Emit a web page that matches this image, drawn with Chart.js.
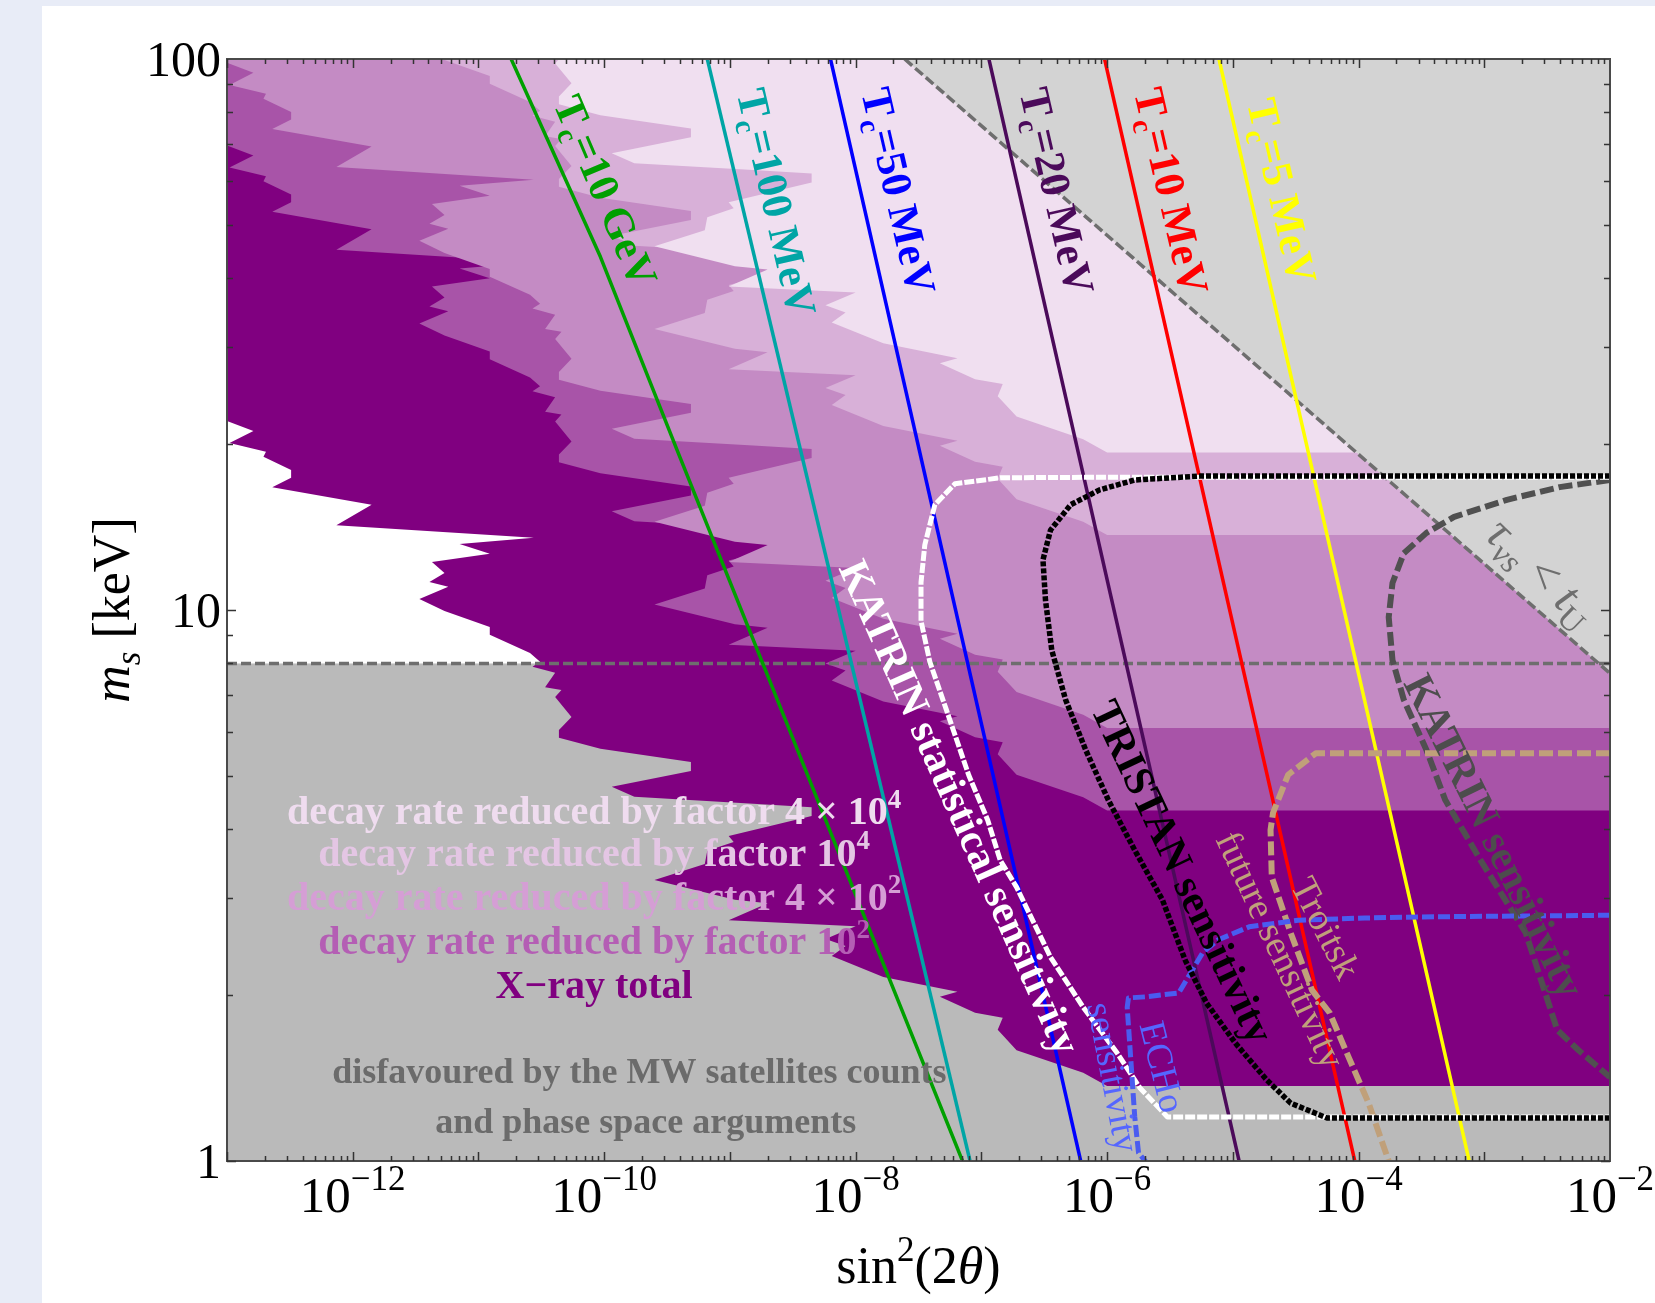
<!DOCTYPE html>
<html>
<head>
<meta charset="utf-8">
<title>Sterile neutrino bounds</title>
<script src="https://cdn.jsdelivr.net/npm/chart.js@4.4.1/dist/chart.umd.min.js"></script>
<style>
    html, body { margin: 0; padding: 0; background: #ffffff; }
    #page { position: relative; width: 1655px; height: 1303px; overflow: hidden; background: #ffffff; }
    #band-left { position: absolute; left: 0; top: 0; width: 42px; height: 1303px; background: #e8ecf7; }
    #band-top { position: absolute; left: 0; top: 0; width: 1655px; height: 6px; background: #e8ecf7; }
    #bounds-canvas { position: absolute; left: 0; top: 0; }
</style>
</head>
<body>
<div id="page">
    <div id="band-left"></div>
    <div id="band-top"></div>
    <canvas id="bounds-canvas" width="1655" height="1303"></canvas>
</div>
<script>
// axis ranges: sin^2(2 theta) on x, m_s in keV on y
var xMin = 1e-13, xMax = 1e-2, yMin = 1, yMax = 100;
var xLabelExps = [-12, -10, -8, -6, -4, -2];
var yLabelVals = [1, 10, 100];

// MW satellites / phase space bound, keV
var mwBound = 8.0;

// X-ray bound: jagged edge of the excluded region (log10 sin^2 2theta, log10 m_s)
var xrayLogX = [-13.00, -12.79, -12.98, -12.69, -12.71, -12.49, -12.49, -12.64, -11.85, -12.13,
    -10.56, -11.15, -10.91, -11.37, -11.27, -11.39, -11.24, -11.47, -11.27, -10.91,
    -10.91, -10.59, -10.51, -10.57, -10.39, -10.47, -10.34, -10.39, -10.26, -10.36,
    -10.36, -10.03, -9.31, -9.31, -9.94, -9.76, -8.78, -8.35, -8.35, -9.01,
    -8.97, -9.18, -9.20, -9.60, -8.96, -8.70, -9.01, -8.00, -8.24, -8.08,
    -8.19, -7.78, -7.19, -7.33, -7.05, -6.83, -6.87, -6.72, -6.19, -6.00];
var xrayLogM = [1.343, 1.325, 1.303, 1.287, 1.278, 1.254, 1.240, 1.223, 1.191, 1.154,
    1.131, 1.120, 1.102, 1.087, 1.067, 1.051, 1.042, 1.020, 0.998, 0.969,
    0.955, 0.922, 0.906, 0.897, 0.886, 0.860, 0.855, 0.842, 0.806, 0.782,
    0.768, 0.748, 0.724, 0.708, 0.679, 0.661, 0.648, 0.642, 0.626, 0.590,
    0.579, 0.563, 0.539, 0.510, 0.474, 0.468, 0.437, 0.426, 0.403, 0.390,
    0.372, 0.334, 0.307, 0.298, 0.269, 0.260, 0.238, 0.201, 0.160, 0.136];
// same edge with the decay rate reduced (edges move up in m_s)
var red1e2LogM = [1.843, 1.825, 1.803, 1.787, 1.778, 1.754, 1.740, 1.723, 1.691, 1.654,
    1.631, 1.620, 1.602, 1.587, 1.567, 1.551, 1.542, 1.520, 1.498, 1.469,
    1.455, 1.422, 1.406, 1.397, 1.386, 1.360, 1.355, 1.342, 1.306, 1.282,
    1.268, 1.248, 1.224, 1.208, 1.179, 1.161, 1.148, 1.142, 1.126, 1.090,
    1.079, 1.063, 1.039, 1.010, 0.974, 0.968, 0.937, 0.926, 0.903, 0.890,
    0.872, 0.834, 0.807, 0.798, 0.769, 0.760, 0.738, 0.701, 0.660, 0.636];
var red4e2LogM = [1.993, 1.975, 1.953, 1.937, 1.928, 1.904, 1.890, 1.873, 1.841, 1.804,
    1.781, 1.770, 1.752, 1.737, 1.717, 1.701, 1.692, 1.670, 1.648, 1.619,
    1.605, 1.572, 1.556, 1.547, 1.536, 1.510, 1.505, 1.492, 1.456, 1.432,
    1.418, 1.398, 1.374, 1.358, 1.329, 1.311, 1.298, 1.292, 1.276, 1.240,
    1.229, 1.213, 1.189, 1.160, 1.124, 1.118, 1.087, 1.076, 1.053, 1.040,
    1.022, 0.984, 0.957, 0.948, 0.919, 0.910, 0.888, 0.851, 0.810, 0.786];
var red1e4LogM = [2.343, 2.325, 2.303, 2.287, 2.278, 2.254, 2.240, 2.223, 2.191, 2.154,
    2.131, 2.120, 2.102, 2.087, 2.067, 2.051, 2.042, 2.020, 1.998, 1.969,
    1.955, 1.922, 1.906, 1.897, 1.886, 1.860, 1.855, 1.842, 1.806, 1.782,
    1.768, 1.748, 1.724, 1.708, 1.679, 1.661, 1.648, 1.642, 1.626, 1.590,
    1.579, 1.563, 1.539, 1.510, 1.474, 1.468, 1.437, 1.426, 1.403, 1.390,
    1.372, 1.334, 1.307, 1.298, 1.269, 1.260, 1.238, 1.201, 1.160, 1.136];
var red4e4LogM = [2.493, 2.475, 2.453, 2.437, 2.428, 2.404, 2.390, 2.373, 2.341, 2.304,
    2.281, 2.270, 2.252, 2.237, 2.217, 2.201, 2.192, 2.170, 2.148, 2.119,
    2.105, 2.072, 2.056, 2.047, 2.036, 2.010, 2.005, 1.992, 1.956, 1.932,
    1.918, 1.898, 1.874, 1.858, 1.829, 1.811, 1.798, 1.792, 1.776, 1.740,
    1.729, 1.713, 1.689, 1.660, 1.624, 1.618, 1.587, 1.576, 1.553, 1.540,
    1.522, 1.484, 1.457, 1.448, 1.419, 1.410, 1.388, 1.351, 1.310, 1.286];

// lifetime shorter than the age of the universe (dashed diagonal)
var lifetimeLogX = [-7.61, -2.00];
var lifetimeLogM = [2.000, 0.885];

// production temperature lines
var tcEndLogM = [2.0, 0.0];
var tc10GeVLogX = [-10.74, -10.03, -9.42, -7.15];
var tc10GeVLogM = [2.0, 1.641, 1.290, 0.0];
var tc100MeVLogX = [-9.18, -7.09];
var tc50MeVLogX = [-8.20, -6.21];
var tc20MeVLogX = [-6.94, -4.95];
var tc10MeVLogX = [-6.02, -4.03];
var tc5MeVLogX = [-5.11, -3.12];

// sensitivity curves
var katrinStatLogX = [-2.00, -5.99, -6.85, -7.21, -7.37, -7.45, -7.48, -7.48, -7.41, -7.28, -7.10, -6.95, -6.85, -6.72, -6.45, -6.19, -5.92, -5.74, -5.52, -2.00];
var katrinStatLogM = [1.241, 1.241, 1.240, 1.229, 1.191, 1.118, 1.050, 0.980, 0.906, 0.820, 0.700, 0.619, 0.546, 0.497, 0.370, 0.279, 0.196, 0.133, 0.080, 0.080];
var tristanLogX = [-2.00, -5.26, -5.78, -6.06, -6.29, -6.45, -6.51, -6.49, -6.44, -6.33, -6.17, -5.99, -5.78, -5.56, -5.38, -5.21, -4.98, -4.73, -4.54, -4.25, -2.00];
var tristanLogM = [1.243, 1.243, 1.236, 1.218, 1.191, 1.145, 1.091, 1.018, 0.927, 0.837, 0.746, 0.655, 0.564, 0.474, 0.365, 0.287, 0.214, 0.147, 0.105, 0.078, 0.078];
var katrinLogX = [-2.00, -2.40, -2.82, -3.24, -3.46, -3.64, -3.73, -3.76, -3.73, -3.64, -3.46, -3.31, -3.03, -2.67, -2.42, -2.25, -2.00];
var katrinLogM = [1.236, 1.223, 1.200, 1.169, 1.140, 1.103, 1.049, 0.987, 0.909, 0.837, 0.746, 0.655, 0.546, 0.414, 0.238, 0.201, 0.152];
var troitskLogX = [-2.00, -4.34, -4.56, -4.68, -4.70, -4.69, -4.54, -4.37, -4.23, -4.08, -3.92, -3.76];
var troitskLogM = [0.740, 0.740, 0.701, 0.632, 0.601, 0.515, 0.414, 0.310, 0.269, 0.189, 0.105, 0.000];
var echoLogX = [-2.00, -3.52, -3.95, -4.48, -4.87, -5.12, -5.24, -5.43, -5.69, -5.83, -5.84, -5.78, -5.75, -5.69];
var echoLogM = [0.446, 0.443, 0.441, 0.437, 0.425, 0.401, 0.378, 0.305, 0.298, 0.296, 0.279, 0.080, 0.015, -0.002];

var FONT = '"Liberation Serif", "Times New Roman", serif';
var TOP = 400;      // above the frame, closes the filled areas
var BELOW = 0.5;    // below the frame

var tcLabels = [
    {parts: [['T'], ['c', 'sub'], ['=10 GeV']], color: '#00a000', at: [-9.99, 1.76], rot: 67},
    {parts: [['T'], ['c', 'sub'], ['=100 MeV']], color: '#00a5a5', at: [-8.63, 1.74], rot: 77},
    {parts: [['T'], ['c', 'sub'], ['=50 MeV']], color: '#0000ff', at: [-7.66, 1.76], rot: 77},
    {parts: [['T'], ['c', 'sub'], ['=20 MeV']], color: '#4b0a5a', at: [-6.40, 1.76], rot: 77},
    {parts: [['T'], ['c', 'sub'], ['=10 MeV']], color: '#ff0000', at: [-5.49, 1.76], rot: 77},
    {parts: [['T'], ['c', 'sub'], ['=5 MeV']], color: '#ffff00', at: [-4.61, 1.76], rot: 77}
];
var curveLabels = [
    {parts: [['KATRIN statistical sensitivity']], color: '#ffffff', at: [-7.17, 0.642], rot: 66, size: 42, weight: 'bold'},
    {parts: [['TRISTAN sensitivity']], color: '#000000', at: [-5.40, 0.525], rot: 64.7, size: 42, weight: 'bold'},
    {parts: [['KATRIN sensitivity']], color: '#4d4d4d', at: [-2.92, 0.590], rot: 63.6, size: 42, weight: 'bold'},
    {parts: [['Troitsk']], color: '#c0a07a', at: [-4.26, 0.423], rot: 63, size: 38, weight: 'normal'},
    {parts: [['future sensitivity']], color: '#c0a07a', at: [-4.62, 0.383], rot: 65, size: 38, weight: 'normal'},
    {parts: [['ECHo']], color: '#5566ff', at: [-5.56, 0.171], rot: 76, size: 37, weight: 'normal'},
    {parts: [['sensitivity']], color: '#5566ff', at: [-5.95, 0.152], rot: 79, size: 37, weight: 'normal'},
    {parts: [['\u03c4', 'i'], ['\u03bds', 'isub'], [' < '], ['t', 'i'], ['U', 'sub']], color: '#6e6e6e', at: [-2.54, 1.070], rot: 44, size: 48, weight: 'normal'}
];
var legendLines = [
    {parts: [['decay rate reduced by factor 4 \u00d7 10'], ['4', 'sup']], color: '#efdcef', at: [-10.08, 0.635], size: 40},
    {parts: [['decay rate reduced by factor 10'], ['4', 'sup']], color: '#e4c6e4', at: [-10.08, 0.559], size: 40},
    {parts: [['decay rate reduced by factor 4 \u00d7 10'], ['2', 'sup']], color: '#d59ed5', at: [-10.08, 0.479], size: 40},
    {parts: [['decay rate reduced by factor 10'], ['2', 'sup']], color: '#b45eb4', at: [-10.08, 0.399], size: 40},
    {parts: [['X\u2212ray total']], color: '#800080', at: [-10.08, 0.319], size: 40},
    {parts: [['disfavoured by the MW satellites counts']], color: '#6b6b6b', at: [-9.72, 0.163], size: 36},
    {parts: [['and phase space arguments']], color: '#6b6b6b', at: [-9.67, 0.073], size: 36}
];

function toPoints(logX, logM) {
    return logX.map(function(e, i) {
        return {x: Math.pow(10, e), y: Math.pow(10, logM[i])};
    });
}

// area to the right of an edge and above its lowest point
function region(logX, logM) {
    var pts = toPoints(logX, logM);
    var last = pts[pts.length - 1];
    return [{x: xMin, y: TOP}, {x: xMin, y: pts[0].y}].concat(pts, [{x: xMax, y: last.y}, {x: xMax, y: TOP}]);
}

function fillSet(data, color, order) {
    return {data: data, showLine: true, fill: 'shape', backgroundColor: color, borderWidth: 0,
        borderColor: 'rgba(0,0,0,0)', pointRadius: 0, order: order, clip: 0};
}

function lineSet(data, color, width, dash, order) {
    return {data: data, showLine: true, fill: false, borderColor: color, borderWidth: width,
        borderDash: dash || [], borderJoinStyle: 'round', pointRadius: 0, order: order, clip: 0};
}

function richFont(kind, size, weight) {
    var small = kind.indexOf('sub') >= 0 || kind.indexOf('sup') >= 0;
    var italic = kind.charAt(0) === 'i' ? 'italic ' : '';
    return italic + weight + ' ' + (small ? Math.round(size * 0.68) : size) + 'px ' + FONT;
}

// text with sub/superscripts, centred on (cx, cy)
function drawRich(ctx, parts, size, weight, color, cx, cy, rot, align) {
    ctx.save();
    ctx.translate(cx, cy);
    ctx.rotate(rot * Math.PI / 180);
    ctx.fillStyle = color;
    ctx.textAlign = 'left';
    ctx.textBaseline = 'alphabetic';
    var total = 0;
    parts.forEach(function(p) {
        ctx.font = richFont(p[1] || '', size, weight);
        total += ctx.measureText(p[0]).width;
    });
    var x = align === 'right' ? -total : -total / 2;
    var base = size * 0.33;
    parts.forEach(function(p) {
        var kind = p[1] || '';
        ctx.font = richFont(kind, size, weight);
        var dy = 0;
        if (kind.indexOf('sup') >= 0) dy = -size * 0.42;
        if (kind.indexOf('sub') >= 0) dy = size * 0.2;
        ctx.fillText(p[0], x, base + dy);
        x += ctx.measureText(p[0]).width;
    });
    ctx.restore();
}

var axesDecor = {
    id: 'axesDecor',
    afterDatasetsDraw: function(chart) {
        var ctx = chart.ctx, a = chart.chartArea;
        var xs = chart.scales.x, ys = chart.scales.y;

        function at(p) {
            return [xs.getPixelForValue(Math.pow(10, p[0])), ys.getPixelForValue(Math.pow(10, p[1]))];
        }

        tcLabels.forEach(function(l) {
            var p = at(l.at);
            drawRich(ctx, l.parts, 43, 'bold', l.color, p[0], p[1], l.rot);
        });
        curveLabels.forEach(function(l) {
            var p = at(l.at);
            drawRich(ctx, l.parts, l.size, l.weight, l.color, p[0], p[1], l.rot);
        });
        legendLines.forEach(function(l) {
            var p = at(l.at);
            drawRich(ctx, l.parts, l.size, 'bold', l.color, p[0], p[1], 0);
        });

        ctx.save();
        ctx.strokeStyle = '#4a4a4a';
        ctx.lineWidth = 2;
        ctx.strokeRect(a.left, a.top, a.right - a.left, a.bottom - a.top);

        // inward ticks on all four sides
        ctx.strokeStyle = '#333333';
        ctx.lineWidth = 1.5;
        ctx.beginPath();
        for (var e = -13; e < -2; e++) {
            for (var k = 1; k < 10; k++) {
                var px = Math.round(xs.getPixelForValue(k * Math.pow(10, e))) + 0.5;
                var len = k === 1 ? 9 : 5;
                ctx.moveTo(px, a.bottom); ctx.lineTo(px, a.bottom - len);
                ctx.moveTo(px, a.top); ctx.lineTo(px, a.top + len);
            }
        }
        for (var d = 0; d < 2; d++) {
            for (var j = 1; j < 10; j++) {
                var py = Math.round(ys.getPixelForValue(j * Math.pow(10, d))) + 0.5;
                var ly = j === 1 ? 9 : 6;
                ctx.moveTo(a.left, py); ctx.lineTo(a.left + ly, py);
                ctx.moveTo(a.right, py); ctx.lineTo(a.right - ly, py);
            }
        }
        ctx.stroke();
        ctx.restore();

        xLabelExps.forEach(function(ex) {
            var px = xs.getPixelForValue(Math.pow(10, ex));
            drawRich(ctx, [['10'], ['\u2212' + Math.abs(ex), 'sup']], 51, 'normal', '#000000', px, a.bottom + 34, 0);
        });
        yLabelVals.forEach(function(v) {
            var py = ys.getPixelForValue(v);
            drawRich(ctx, [[String(v)]], 50, 'normal', '#000000', a.left - 6, py, 0, 'right');
        });

        drawRich(ctx, [['sin'], ['2', 'sup'], ['(2'], ['\u03b8', 'i'], [')']], 52, 'normal', '#000000',
            (a.left + a.right) / 2, a.bottom + 105, 0);
        drawRich(ctx, [['m', 'i'], ['s', 'isub'], [' [keV]']], 52, 'normal', '#000000',
            112, (a.top + a.bottom) / 2, -90);
    }
};

document.addEventListener('DOMContentLoaded', function() {
    var ctx = document.getElementById('bounds-canvas').getContext('2d');

    var mwArea = [{x: xMin, y: BELOW}, {x: xMax, y: BELOW}, {x: xMax, y: mwBound}, {x: xMin, y: mwBound}];
    var mwLine = [{x: xMin, y: mwBound}, {x: xMax, y: mwBound}];
    var lifetimeLine = toPoints(lifetimeLogX, lifetimeLogM);
    var lifetimeArea = lifetimeLine.concat([{x: xMax, y: TOP}, {x: lifetimeLine[0].x, y: TOP}]);

    var datasets = [
        fillSet(mwArea, '#bababa', 100),
        fillSet(region(xrayLogX, xrayLogM), '#800080', 90),
        fillSet(region(xrayLogX, red1e2LogM), '#a854a8', 80),
        fillSet(region(xrayLogX, red4e2LogM), '#c48bc4', 70),
        fillSet(region(xrayLogX, red1e4LogM), '#d8b0d8', 60),
        fillSet(region(xrayLogX, red4e4LogM), '#f0dff0', 50),
        fillSet(lifetimeArea, '#d3d3d3', 40),
        lineSet(mwLine, '#6e6e6e', 3.5, [10, 4], 30),
        lineSet(lifetimeLine, '#6e6e6e', 3.5, [10, 4], 30),
        lineSet(toPoints(tc10GeVLogX, tc10GeVLogM), '#00a000', 3.5, null, 20),
        lineSet(toPoints(tc100MeVLogX, tcEndLogM), '#00a5a5', 3.5, null, 20),
        lineSet(toPoints(tc50MeVLogX, tcEndLogM), '#0000ff', 3.5, null, 20),
        lineSet(toPoints(tc20MeVLogX, tcEndLogM), '#4b0a5a', 3.5, null, 20),
        lineSet(toPoints(tc10MeVLogX, tcEndLogM), '#ff0000', 3.5, null, 20),
        lineSet(toPoints(tc5MeVLogX, tcEndLogM), '#ffff00', 3.5, null, 20),
        lineSet(toPoints(katrinLogX, katrinLogM), '#505050', 6, [14, 5], 15),
        lineSet(toPoints(troitskLogX, troitskLogM), '#c0a07a', 6, [14, 5], 14),
        lineSet(toPoints(katrinStatLogX, katrinStatLogM), '#ffffff', 5, [10, 2], 13),
        lineSet(toPoints(echoLogX, echoLogM), '#4a5cf0', 5, [12, 4], 12),
        lineSet(toPoints(tristanLogX, tristanLogM), '#000000', 5.5, [5, 2], 11)
    ];

    new Chart(ctx, {
        type: 'scatter',
        data: {datasets: datasets},
        options: {
            responsive: false,
            animation: false,
            events: [],
            layout: {padding: {top: 59, right: 45, left: 0, bottom: 0}},
            elements: {point: {radius: 0}, line: {tension: 0}},
            scales: {
                x: {
                    type: 'logarithmic', min: xMin, max: xMax,
                    ticks: {display: false}, grid: {display: false}, border: {display: false},
                    afterFit: function(s) { s.height = 142; }
                },
                y: {
                    type: 'logarithmic', min: yMin, max: yMax,
                    ticks: {display: false}, grid: {display: false}, border: {display: false},
                    afterFit: function(s) { s.width = 227; }
                }
            },
            plugins: {legend: {display: false}, tooltip: {enabled: false}}
        },
        plugins: [axesDecor]
    });
});
</script>
</body>
</html>
